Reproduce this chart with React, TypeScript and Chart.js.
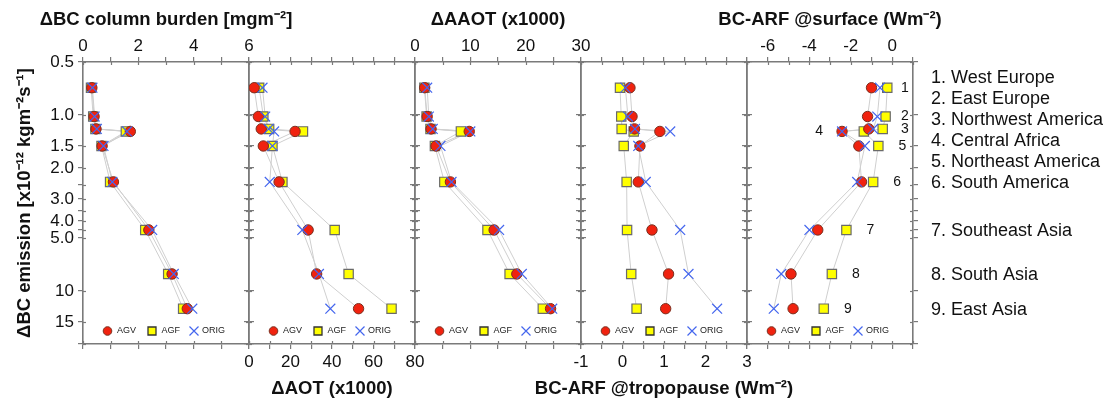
import React, { useEffect, useRef } from 'react';
import { Chart, registerables } from 'chart.js';

Chart.register(...registerables);
Chart.defaults.font.family = '"Liberation Sans", Arial, Helvetica, sans-serif';
Chart.defaults.color = '#111111';

// ---------- data ----------
const regionNames = [
  '1. West Europe',
  '2. East Europe',
  '3. Northwest America',
  '4. Central Africa',
  '5. Northeast America',
  '6. South America',
  '7. Southeast Asia',
  '8. South Asia',
  '9. East Asia',
];
const regionNumbers = ['1', '2', '3', '4', '5', '6', '7', '8', '9'];
// ΔBC emission [x10^-12 kg m^-2 s^-1] for each region
const emission = [0.7, 1.02, 1.2, 1.24, 1.5, 2.4, 4.5, 8.0, 12.6];

const yTickValues = [0.5, 1, 1.5, 2, 2.5, 3, 3.5, 4, 4.5, 5, 10, 15, 20];
const yTickLabels = ['0.5', '1.0', '1.5', '2.0', '', '3.0', '', '4.0', '', '5.0', '10', '15', ''];

const seriesNames = ['AGV', 'AGF', 'ORIG'];

// ΔBC column burden [mg m^-2]
const burdenAGV = [0.32, 0.4, 0.47, 1.71, 0.69, 1.1, 2.38, 3.22, 3.77];
const burdenAGF = [0.29, 0.37, 0.45, 1.55, 0.67, 0.98, 2.25, 3.08, 3.62];
const burdenORIG = [0.34, 0.42, 0.5, 1.59, 0.74, 1.06, 2.5, 3.28, 3.95];

// ΔAOT (x1000)
const aotAGV = [2.5, 4.5, 5.9, 22.2, 6.9, 14.5, 28.5, 32.6, 52.8];
const aotAGF = [4.9, 6.9, 9.7, 26.0, 11.3, 16.1, 41.3, 48.0, 68.7];
const aotORIG = [6.5, 7.8, 9.5, 12.1, 11.3, 10.0, 25.7, 33.7, 39.2];

// ΔAAOT (x1000)
const aaotAGV = [1.75, 2.2, 2.9, 9.8, 3.8, 6.4, 14.3, 18.4, 24.5];
const aaotAGF = [1.7, 2.1, 2.8, 8.3, 3.6, 5.3, 13.1, 17.1, 23.1];
const aaotORIG = [2.2, 2.5, 3.2, 10.0, 4.6, 6.6, 15.2, 19.3, 24.8];

// BC-ARF @tropopause (W m^-2)
const tropAGV = [0.18, 0.23, 0.29, 0.9, 0.42, 0.38, 0.71, 1.11, 1.04];
const tropAGF = [-0.06, -0.03, -0.02, 0.27, 0.03, 0.1, 0.11, 0.21, 0.34];
const tropORIG = [0.07, 0.13, 0.3, 1.15, 0.38, 0.56, 1.39, 1.59, 2.28];

// BC-ARF @surface (W m^-2)
const sfcAGV = [-1.0, -1.19, -1.13, -2.42, -1.61, -1.48, -3.59, -4.88, -4.78];
const sfcAGF = [-0.24, -0.32, -0.46, -1.37, -0.67, -0.92, -2.21, -2.91, -3.3];
const sfcORIG = [-0.59, -0.72, -0.92, -2.42, -1.32, -1.69, -3.99, -5.35, -5.71];

// ---------- panel definitions ----------
const panels = [
  { title: 'ΔBC column burden [mgm⁻²]', pos: 'top', min: 0, max: 6, step: 1, labelStep: 2, agv: burdenAGV, agf: burdenAGF, orig: burdenORIG },
  { title: 'ΔAOT (x1000)', pos: 'bottom', min: 0, max: 80, step: 10, labelStep: 20, agv: aotAGV, agf: aotAGF, orig: aotORIG },
  { title: 'ΔAAOT (x1000)', pos: 'top', min: 0, max: 30, step: 5, labelStep: 10, agv: aaotAGV, agf: aaotAGF, orig: aaotORIG },
  { title: 'BC-ARF @tropopause (Wm⁻²)', pos: 'bottom', min: -1, max: 3, step: 0.5, labelStep: 1, agv: tropAGV, agf: tropAGF, orig: tropORIG },
  { title: 'BC-ARF @surface (Wm⁻²)', pos: 'top', min: -7, max: 1, step: 1, labelStep: 2, agv: sfcAGV, agf: sfcAGF, orig: sfcORIG },
];

const W = 1110;
const H = 400;
const panelEdges = [83, 249, 415, 581, 747, 913];
const PLOT_TOP = 62;
const PLOT_BOTTOM = 344;

const AXIS_COLOR = '#7a7a7a';
const RED = '#f0220f';
const RED_EDGE = '#7a3020';
const YELLOW = '#ffff00';
const YELLOW_EDGE = '#6a6a6a';
const BLUE = '#4466ee';
const LINE_GRAY = '#cfcfcf';
const FONT = '"Liberation Sans", Arial, Helvetica, sans-serif';

function drawCircle(ctx, x, y, r) {
  ctx.beginPath();
  ctx.arc(x, y, r, 0, Math.PI * 2);
  ctx.fillStyle = RED;
  ctx.fill();
  ctx.lineWidth = 1;
  ctx.strokeStyle = RED_EDGE;
  ctx.stroke();
}
function drawSquare(ctx, x, y, s) {
  ctx.beginPath();
  ctx.rect(x - s / 2, y - s / 2, s, s);
  ctx.fillStyle = YELLOW;
  ctx.fill();
  ctx.lineWidth = 1.3;
  ctx.strokeStyle = '#333333';
  ctx.stroke();
}
function drawX(ctx, x, y, h) {
  ctx.beginPath();
  ctx.moveTo(x - h, y - h);
  ctx.lineTo(x + h, y + h);
  ctx.moveTo(x - h, y + h);
  ctx.lineTo(x + h, y - h);
  ctx.lineWidth = 1.2;
  ctx.strokeStyle = BLUE;
  ctx.stroke();
}

const legendPlugin = {
  id: 'panelLegend',
  afterDatasetsDraw(chart) {
    const { ctx, chartArea } = chart;
    const cx = (chartArea.left + chartArea.right) / 2;
    const y = chartArea.bottom - 13;
    ctx.save();
    ctx.font = `9px ${FONT}`;
    ctx.textBaseline = 'middle';
    ctx.textAlign = 'left';
    drawCircle(ctx, cx - 58.5, y, 4.3);
    ctx.fillStyle = '#222';
    ctx.fillText(seriesNames[0], cx - 49, y);
    drawSquare(ctx, cx - 14, y, 8);
    ctx.fillStyle = '#222';
    ctx.fillText(seriesNames[1], cx - 4.5, y);
    drawX(ctx, cx + 28, y, 4.5);
    ctx.fillStyle = '#222';
    ctx.fillText(seriesNames[2], cx + 36, y);
    ctx.restore();
  },
};

// x-axis titles drawn without width compression, plus inward tick marks
const titlePlugin = {
  id: 'panelTitle',
  afterDraw(chart, _args, opts) {
    const { ctx, chartArea } = chart;
    const p = panels[opts.index];
    const cx = (chartArea.left + chartArea.right) / 2;
    ctx.save();
    ctx.font = `bold 18.5px ${FONT}`;
    ctx.fillStyle = '#111';
    ctx.textAlign = 'center';
    ctx.textBaseline = 'middle';
    ctx.fillText(p.title, cx, p.pos === 'top' ? 20 : 389);
    // inward ticks
    ctx.strokeStyle = AXIS_COLOR;
    ctx.lineWidth = 1.2;
    const inner = 3;
    ['xMain', 'xOther'].forEach((id) => {
      const s = chart.scales[id];
      const yEdge = s.position === 'top' ? chartArea.top : chartArea.bottom;
      const dir = s.position === 'top' ? 1 : -1;
      s.ticks.forEach((t) => {
        const px = Math.round(s.getPixelForValue(t.value)) + 0.5;
        ctx.beginPath();
        ctx.moveTo(px, yEdge);
        ctx.lineTo(px, yEdge + dir * inner);
        ctx.stroke();
      });
    });
    ['y', 'yRight'].forEach((id) => {
      const s = chart.scales[id];
      const xEdge = s.position === 'left' ? chartArea.left : chartArea.right;
      const dir = s.position === 'left' ? 1 : -1;
      s.ticks.forEach((t) => {
        const py = Math.round(s.getPixelForValue(t.value)) + 0.5;
        ctx.beginPath();
        ctx.moveTo(xEdge, py);
        ctx.lineTo(xEdge + dir * inner, py);
        ctx.stroke();
      });
    });
    ctx.restore();
  },
};

const regionPlugin = {
  id: 'regionLabels',
  afterDatasetsDraw(chart) {
    const { ctx } = chart;
    const xs = chart.scales.xMain;
    const ys = chart.scales.y;
    const p = panels[4];
    ctx.save();
    ctx.fillStyle = '#111';
    ctx.font = `14px ${FONT}`;
    ctx.textBaseline = 'middle';
    ctx.textAlign = 'center';
    emission.forEach((e, k) => {
      const py = ys.getPixelForValue(e);
      const vals = [p.agv[k], p.agf[k], p.orig[k]];
      let px;
      if (k === 3) {
        px = xs.getPixelForValue(Math.min(...vals)) - 23;
      } else {
        px = Math.min(xs.getPixelForValue(Math.max(...vals)) + 24, 905);
      }
      ctx.fillText(regionNumbers[k], px, py);
    });
    // region name list
    ctx.font = `18px ${FONT}`;
    ctx.textAlign = 'left';
    regionNames.forEach((name, k) => {
      const py = k < 6 ? 78 + k * 21 : ys.getPixelForValue(emission[k]) + 1;
      ctx.fillText(name, 931, py);
    });
    ctx.restore();
  },
};

function makeConfig(i) {
  const p = panels[i];
  const left = panelEdges[i];
  const right = panelEdges[i + 1];
  const other = p.pos === 'top' ? 'bottom' : 'top';
  const gridCfg = { display: true, drawOnChartArea: false, drawTicks: true, tickLength: 5, color: AXIS_COLOR, lineWidth: 1.2 };
  const borderCfg = { display: true, color: AXIS_COLOR, width: 1.6 };
  const isLabel = (v) => {
    const r = v / p.labelStep;
    return Math.abs(r - Math.round(r)) < 1e-6;
  };
  const fmt = (v) => String(Math.round(v * 1000) / 1000);
  const xh = (pos) => (pos === 'top' ? PLOT_TOP : H - PLOT_BOTTOM);
  const pts = (arr) => arr.map((x, k) => ({ x, y: emission[k] }));
  const setTicks = (s) => {
    s.ticks = yTickValues.map((v) => ({ value: v }));
  };

  const lineSets = [p.agf, p.agv, p.orig].map((arr) => ({
    data: pts(arr),
    showLine: true,
    pointRadius: 0,
    borderColor: LINE_GRAY,
    borderWidth: 1,
    xAxisID: 'xMain',
    yAxisID: 'y',
    order: 10,
  }));
  const pointSets = [
    { data: pts(p.agf), pointStyle: 'rect', pointRadius: 6.6, pointBackgroundColor: YELLOW, pointBorderColor: YELLOW_EDGE, pointBorderWidth: 1.2, order: 3 },
    { data: pts(p.agv), pointStyle: 'circle', pointRadius: 5.2, pointBackgroundColor: RED, pointBorderColor: RED_EDGE, pointBorderWidth: 1, order: 2 },
    { data: pts(p.orig), pointStyle: 'crossRot', pointRadius: 7, pointBackgroundColor: BLUE, pointBorderColor: BLUE, pointBorderWidth: 1.2, order: 1 },
  ].map((d, k) => ({ ...d, label: seriesNames[k], showLine: false, xAxisID: 'xMain', yAxisID: 'y' }));

  return {
    type: 'scatter',
    data: { datasets: [...lineSets, ...pointSets] },
    options: {
      animation: false,
      responsive: false,
      maintainAspectRatio: false,
      events: [],
      layout: { padding: 0 },
      plugins: {
        legend: { display: false },
        tooltip: { enabled: false },
        title: { display: false },
        panelTitle: { index: i },
      },
      scales: {
        xMain: {
          type: 'linear',
          axis: 'x',
          position: p.pos,
          min: p.min,
          max: p.max,
          ticks: {
            stepSize: p.step,
            autoSkip: false,
            maxRotation: 0,
            padding: p.pos === 'top' ? 0 : 3,
            font: { size: 17 },
            color: '#111',
            callback: (v) => (isLabel(v) ? fmt(v) : ''),
          },
          grid: gridCfg,
          border: borderCfg,
          afterFit: (s) => {
            s.height = xh(p.pos);
          },
        },
        xOther: {
          type: 'linear',
          axis: 'x',
          position: other,
          min: p.min,
          max: p.max,
          ticks: { stepSize: p.step, autoSkip: false, maxRotation: 0, callback: () => '' },
          grid: gridCfg,
          border: borderCfg,
          afterFit: (s) => {
            s.height = xh(other);
          },
        },
        y: {
          type: 'logarithmic',
          axis: 'y',
          position: 'left',
          reverse: true,
          min: 0.5,
          max: 20,
          afterBuildTicks: setTicks,
          ticks: {
            autoSkip: false,
            padding: 4,
            font: { size: 17 },
            color: '#111',
            callback: (v, idx) => (i === 0 ? yTickLabels[idx] : ''),
          },
          grid: gridCfg,
          border: borderCfg,
          title: {
            display: i === 0,
            text: 'ΔBC emission [x10⁻¹² kgm⁻²s⁻¹]',
            color: '#111',
            font: { size: 18.5, weight: 'bold' },
            padding: { top: 14, bottom: 0 },
          },
          afterFit: (s) => {
            s.width = left;
          },
        },
        yRight: {
          type: 'logarithmic',
          axis: 'y',
          position: 'right',
          reverse: true,
          min: 0.5,
          max: 20,
          afterBuildTicks: setTicks,
          ticks: { autoSkip: false, callback: () => '' },
          grid: gridCfg,
          border: borderCfg,
          afterFit: (s) => {
            s.width = W - right;
          },
        },
      },
    },
    plugins: i === 4 ? [legendPlugin, titlePlugin, regionPlugin] : [legendPlugin, titlePlugin],
  };
}

function Panel({ index }) {
  const ref = useRef(null);
  useEffect(() => {
    const chart = new Chart(ref.current, makeConfig(index));
    return () => chart.destroy();
  }, [index]);
  return (
    <canvas
      ref={ref}
      width={W}
      height={H}
      style={{ position: 'absolute', left: 0, top: 0, width: W, height: H }}
    />
  );
}

export default function App() {
  return (
    <div style={{ position: 'absolute', left: 0, top: 0, width: W, height: H, background: '#ffffff' }}>
      {panels.map((_, i) => (
        <Panel key={i} index={i} />
      ))}
    </div>
  );
}
